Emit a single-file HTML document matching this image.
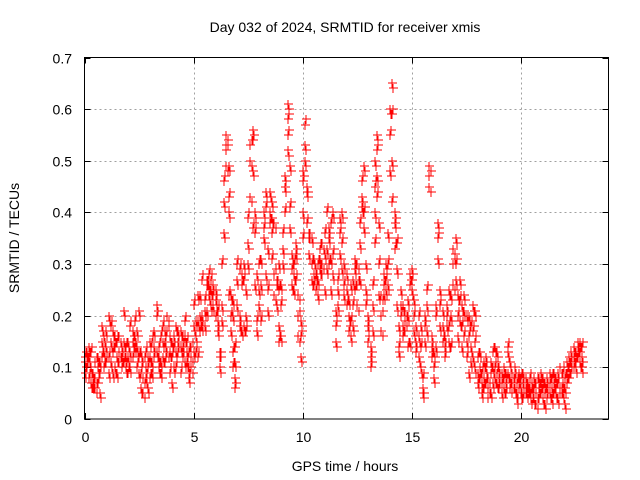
<!DOCTYPE html>
<html><head><meta charset="utf-8"><style>
html,body{margin:0;padding:0;background:#fff;}
svg{display:block;font-family:"Liberation Sans",sans-serif;}
</style></head><body>
<svg id="chart" width="640" height="480" viewBox="0 0 640 480">
<rect width="640" height="480" fill="#fff"/>
<text x="345" y="32" font-size="14" text-anchor="middle" fill="#000">Day 032 of 2024, SRMTID for receiver xmis</text>
<text transform="translate(19,238) rotate(-90)" font-size="14" text-anchor="middle" fill="#000">SRMTID / TECUs</text>
<text x="345" y="471" font-size="14" text-anchor="middle" fill="#000">GPS time / hours</text>
<g id="grid"></g>
<g id="ticks"></g>
<path id="marks" fill="none" stroke="#ff0000" stroke-width="1.2" shape-rendering="crispEdges"/>
<rect x="84.5" y="57.5" width="524" height="361.5" fill="none" stroke="#000" stroke-width="1"/>
</svg>
<script>
const xTicks = [0, 5, 10, 15, 20];
const yTicks = [0, 0.1, 0.2, 0.3, 0.4, 0.5, 0.6, 0.7];
const yTickLabels = ["0", "0.1", "0.2", "0.3", "0.4", "0.5", "0.6", "0.7"];
const times = [];
for (let i = 0; i <= 228; i++) times.push(+(i * 0.1).toFixed(1));
const samples = [
[.11,.12,.09],[.13,.10,.12],[.12,.08,.14],[.10,.13,.07],[.07,.06,.09],[.08,.11,.06],[.10,.07,.12],[.05,.09,.11],[.18,.12,.15],[.16,.10,.13],
[.17,.11,.14],[.09,.12,.20],[.15,.18,.11],[.17,.13,.09],[.10,.14,.16],[.12,.15,.09],[.16,.11,.13],[.14,.10,.12],[.21,.11,.15],[.10,.14,.12],
[.15,.09,.12],[.13,.18,.10],[.17,.12,.15],[.16,.19,.14],[.14,.10,.17],[.21,.12,.09],[.06,.09,.13],[.05,.11,.08],[.08,.13,.10],[.06,.10,.12],
[.12,.08,.15],[.11,.15,.09],[.17,.12,.14],[.22,.20,.13],[.10,.14,.12],[.09,.16,.11],[.12,.18,.15],[.15,.11,.17],[.20,.17,.13],[.13,.09,.16],
[.07,.12,.15],[.16,.14,.10],[.18,.10,.13],[.15,.13,.17],[.17,.09,.14],[.14,.12,.16],[.16,.19,.11],[.11,.15,.13],[.08,.13,.10],[.10,.14,.12],
[.18,.22,.13],[.16,.13,.19],[.19,.12,.24],[.24,.17,.20],[.20,.27,.18],[.18,.23,.21],[.27,.26,.21],[.26,.28,.24],[.25,.27,.22],[.22,.24,.26],
[.25,.20,.23],[.17,.21,.19],[.13,.12,.10],[.22,.30,.19],[.36,.46,.42],[.55,.52,.49,.53],[.49,.43,.40,.24],[.24,.20,.17],[.23,.13,.20,.10],[.08,.06,.11,.14],
[.27,.30,.22],[.18,.29,.20],[.28,.26,.17],[.30,.27,.18],[.20,.17,.25],[.34,.39,.30],[.50,.53,.43],[.56,.54,.48,.37],[.40,.36,.26],[.28,.19,.17],
[.25,.30,.22],[.26,.19,.31],[.40,.37,.35],[.44,.41,.28],[.33,.25,.21],[.40,.38,.44],[.39,.36,.42,.31],[.38,.28,.24],[.27,.26,.22],[.30,.25,.18,.15],
[.16,.22,.26],[.33,.36,.30],[.45,.40,.47],[.52,.58,.61,.55],[.49,.41,.37],[.26,.29,.32],[.28,.30,.25],[.32,.27,.34],[.24,.20,.16],[.12,.16,.19],
[.40,.46,.48,.35],[.53,.57,.50],[.44,.38,.45],[.36,.35,.32],[.35,.30,.27],[.28,.26,.31],[.28,.25,.29],[.27,.30,.24],[.31,.33,.29],[.30,.28,.34],
[.32,.36,.25],[.33,.40,.29],[.35,.30,.37],[.25,.38,.31],[.40,.32,.28],[.15,.18,.21],[.25,.27,.22],[.32,.36,.39],[.40,.34,.29],[.30,.26,.24],
[.25,.22,.28],[.20,.17,.23],[.16,.19,.26],[.27,.22,.18],[.29,.25,.31],[.30,.26,.22],[.34,.38,.27],[.43,.46,.41],[.49,.40,.37],[.25,.22,.30],
[.18,.15,.20],[.12,.10,.14],[.22,.26,.17],[.40,.45,.50,.34],[.55,.52,.47,.43],[.38,.30,.24],[.17,.20,.24],[.24,.26,.28],[.30,.27,.25],[.36,.30,.26],
[.48,.55,.60],[.65,.59,.50,.42],[.38,.33,.40],[.29,.34,.22],[.13,.14,.18],[.22,.20,.25],[.18,.16,.22],[.19,.17,.21],[.20,.14,.23],[.28,.26,.15],
[.29,.27,.25],[.23,.20,.17],[.15,.13,.18],[.16,.20,.12],[.18,.14,.10],[.06,.08,.05],[.15,.18,.20],[.22,.25,.17],[.49,.47,.45],[.16,.12,.14],
[.13,.10,.08],[.14,.20,.22],[.38,.35,.31],[.25,.22,.18],[.18,.15,.21],[.14,.12,.16],[.22,.20,.18],[.25,.18,.15],[.20,.14,.24],[.33,.30,.26],
[.35,.30,.27],[.24,.20,.16],[.27,.23,.19],[.22,.18,.14],[.21,.16,.24],[.15,.12,.20],[.20,.16,.09],[.14,.18,.11],[.22,.17,.12],[.21,.15,.10],
[.09,.12,.07],[.10,.08,.13],[.05,.09,.07],[.11,.06,.08],[.10,.07,.12],[.06,.04,.08],[.05,.09,.11],[.10,.13,.07],[.14,.10,.08],[.13,.09,.07],
[.08,.06,.10],[.05,.07,.09],[.06,.08,.10],[.07,.05,.09],[.13,.14,.09],[.08,.06,.11],[.07,.05,.09],[.06,.08,.10],[.05,.07,.04],[.08,.06,.09],
[.06,.08,.05],[.07,.04,.09],[.06,.05,.08],[.07,.04,.06],[.05,.08,.06],[.06,.03,.07],[.04,.06,.08],[.05,.07,.03],[.06,.04,.08],[.07,.05,.09],
[.04,.06,.08],[.03,.05,.07],[.06,.04,.08],[.05,.07,.09],[.06,.08,.04],[.07,.05,.09],[.05,.06,.08],[.04,.07,.09],[.06,.05,.10],[.07,.09,.05],
[.06,.08,.03],[.09,.07,.11],[.10,.08,.12],[.11,.09,.13],[.12,.10,.14],[.13,.11,.10],[.14,.12,.15],[.15,.13,.11],[.12,.14,.10]
];
const X0 = 84.5, X1 = 608.5, Y0 = 419, Y1 = 57.5;
function xs(t){ return X0 + (t / 24) * (X1 - X0); }
function ys(v){ return Y0 - (v / 0.7) * (Y0 - Y1); }
const NS = "http://www.w3.org/2000/svg";
const grid = document.getElementById('grid');
const ticks = document.getElementById('ticks');
const svg = document.getElementById('chart');
function mk(tag, attrs, parent){
  const e = document.createElementNS(NS, tag);
  for (const k in attrs) e.setAttribute(k, attrs[k]);
  parent.appendChild(e);
  return e;
}
xTicks.forEach(function(t){
  const x = Math.round(xs(t)) + 0.5;
  if (t > 0) {
    const g = mk('line', {x1:x, x2:x, y1:Y1, y2:Y0, stroke:'#a0a0a0', 'stroke-dasharray':'2,3'}, grid);
    
    
  }
  const tk = mk('path', {d:'M'+x+' '+Y0+'V'+(Y0-6)+'M'+x+' '+Y1+'V'+(Y1+6), stroke:'#000'}, ticks);
  
  
  const lb = mk('text', {x:x, y:442, 'font-size':14, 'text-anchor':'middle', fill:'#000'}, svg);
  lb.textContent = String(t);
  
  
});
yTicks.forEach(function(v, i){
  const y = Math.round(ys(v)) + 0.5;
  if (i > 0 && i < yTicks.length - 1) {
    const g = mk('line', {x1:X0, x2:X1, y1:y, y2:y, stroke:'#a0a0a0', 'stroke-dasharray':'2,3'}, grid);
    
    
  }
  const tk = mk('path', {d:'M'+X0+' '+y+'H'+(X0+6)+'M'+X1+' '+y+'H'+(X1-6), stroke:'#000'}, ticks);
  
  
  const lb = mk('text', {x:72, y:y+5, 'font-size':14, 'text-anchor':'end', fill:'#000'}, svg);
  lb.textContent = yTickLabels[i];
  
  
});
let d = '';
samples.forEach(function(vals, i){
  const x = Math.round(xs(times[i]));
  const xb = Math.round(xs(times[i] + 0.05));
  vals.forEach(function(v, j){
    const y = Math.round(ys(v));
    d += 'M' + (x-4) + ' ' + y + 'h9M' + x + ' ' + (y-4) + 'v9';
    const y2 = Math.round(ys(v + (j % 2 ? 0.01 : -0.01)));
    d += 'M' + (xb-4) + ' ' + y2 + 'h9M' + xb + ' ' + (y2-4) + 'v9';
  });
});
document.getElementById('marks').setAttribute('d', d);
</script>
</body></html>
